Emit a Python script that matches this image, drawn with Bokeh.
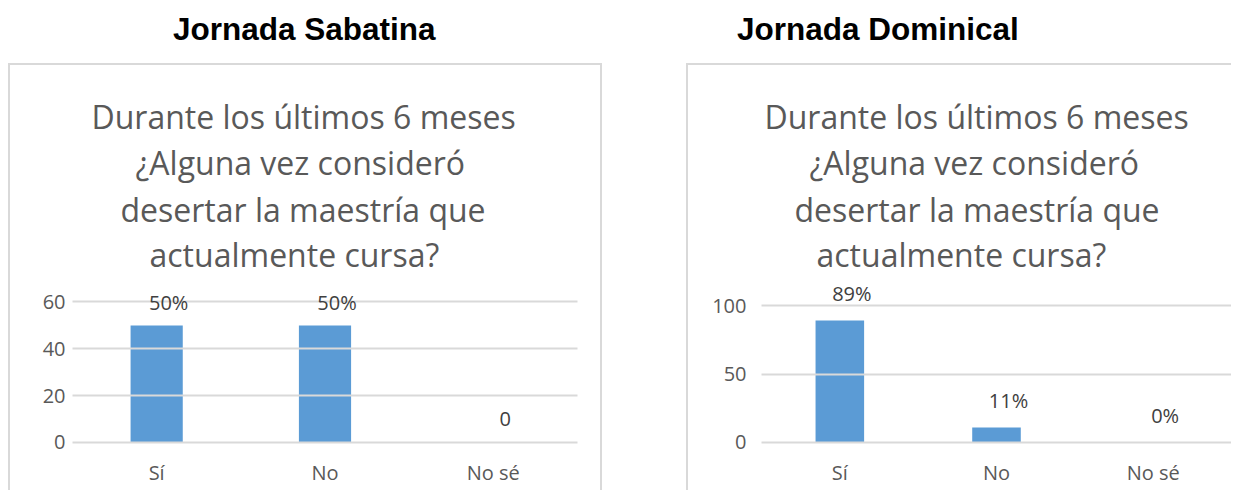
from bokeh.plotting import figure
from bokeh.models import FactorRange, Range1d, FixedTicker, ColumnDataSource, LabelSet, Title, Div
from bokeh.layouts import row, column
from bokeh.embed import file_html
from bokeh.resources import INLINE
from bokeh.core.properties import value

categories = ["Sí", "No", "No sé"]
sabatina_values = [50, 50, 0]
sabatina_labels = ["50%", "50%", "0"]
dominical_values = [89, 11, 0]
dominical_labels = ["89%", "11%", "0%"]
sabatina_ticks = [0, 20, 40, 60]
dominical_ticks = [0, 50, 100]
header_left = "Jornada Sabatina"
header_right = "Jornada Dominical"
question = ["Durante los últimos 6 meses", "¿Alguna vez consideró",
            "desertar la maestría que", "actualmente cursa?"]

FONT = "Open Sans"
BAR = "#5b9bd5"
GRID = "#d9d9d9"
TXT = "#595959"
LBL = "#404040"


def make_chart(vals, labels, ticks, ylo, yhi, width, min_left, min_right,
               line_offsets, ystandoff, lab_dy, styles, margin):
    src = ColumnDataSource(dict(cat=categories, val=vals, lab=labels))
    p = figure(x_range=FactorRange(*categories), y_range=Range1d(ylo, yhi),
               width=width, height=427, output_backend="svg", toolbar_location=None,
               min_border_left=min_left, min_border_right=min_right,
               min_border_top=210, min_border_bottom=48,
               styles=styles, margin=margin)
    p.vbar(x="cat", top="val", width=0.31, source=src, color=BAR, line_color=None)
    p.outline_line_color = None
    p.xgrid.grid_line_color = None
    p.ygrid.grid_line_color = GRID
    p.ygrid.grid_line_width = 2
    p.ygrid.level = "overlay"
    p.add_layout(LabelSet(x="cat", y="val", text="lab", source=src, x_offset=12, y_offset=lab_dy,
                          text_align="center", text_baseline="middle", level="overlay",
                          text_font=value(FONT), text_font_size="20px", text_color=LBL,
                          background_fill_color="white", background_fill_alpha=0.0))
    standoffs = [0, 3, 0, 0]
    for i in reversed(range(len(question))):
        p.add_layout(Title(text=question[i], align="left", offset=line_offsets[i],
                           vertical_align="bottom", standoff=standoffs[i],
                           text_font=FONT, text_font_size="32px", text_color=TXT,
                           text_font_style="normal"), "above")
    p.yaxis.ticker = FixedTicker(ticks=ticks)
    for ax in (p.xaxis, p.yaxis):
        ax.axis_line_color = None
        ax.major_tick_line_color = None
        ax.minor_tick_line_color = None
        ax.major_label_text_font = FONT
        ax.major_label_text_font_size = "20px"
        ax.major_label_text_color = TXT
    p.yaxis.major_label_standoff = ystandoff
    p.xaxis.major_label_standoff = 8
    return p


border_l = {"border-top": "2px solid #d9d9d9", "border-left": "2px solid #d9d9d9",
            "border-right": "2px solid #d9d9d9"}
border_r = {"border-top": "2px solid #d9d9d9", "border-left": "2px solid #d9d9d9"}

left = make_chart(sabatina_values, sabatina_labels, sabatina_ticks, -0.854, 71.3, 594, 62, 27,
                  [19, 63, 48, 77], 1, 23, border_l, (0, 0, 0, 8))
right = make_chart(dominical_values, dominical_labels, dominical_ticks, -1.46, 121.9, 545, 73, 2,
                   [3, 48, 33, 55], 9, 27, border_r, (0, 0, 0, 84))

hstyle = "font-family:'Liberation Sans';font-weight:bold;font-size:31.5px;color:#000;line-height:48px;white-space:nowrap;"
hl = Div(text=f'<div style="{hstyle}padding-left:168px">{header_left}</div>', width=680, height=53)
hr = Div(text=f'<div style="{hstyle}padding-left:42px">{header_right}</div>', width=551, height=53)

layout = column(row(hl, hr), row(left, right))
open("out.html", "w").write(file_html(layout, INLINE))
